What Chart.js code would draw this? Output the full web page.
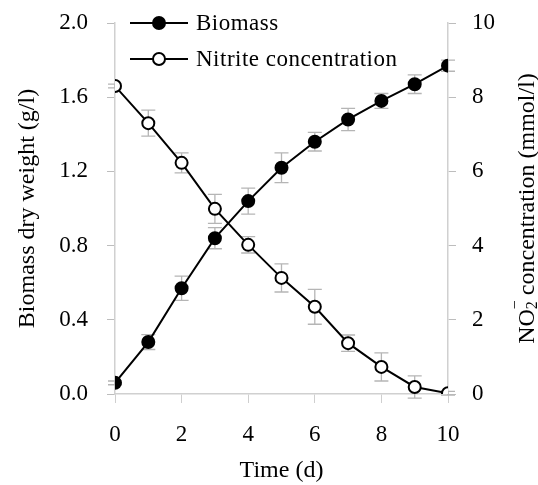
<!DOCTYPE html>
<html lang="en">
<head>
  <meta charset="UTF-8" />
  <title>Biomass and nitrite</title>
  <script src="https://cdn.jsdelivr.net/npm/chart.js"></script>
  <style>
    * { margin: 0; padding: 0; box-sizing: border-box; }
    body { background: #fff; width: 538px; height: 485px; overflow: hidden; }
    #wrap { width: 538px; height: 485px; }
  </style>
</head>
<body>
  <div id="wrap"><canvas id="chart" width="538" height="485"></canvas></div>

  <script>
    const days = [0, 1, 2, 3, 4, 5, 6, 7, 8, 9, 10];
    const biomass = [0.06, 0.28, 0.57, 0.84, 1.04, 1.22, 1.36, 1.48, 1.58, 1.67, 1.77];
    const biomassErr = [0.01, 0.04, 0.065, 0.057, 0.07, 0.08, 0.05, 0.06, 0.04, 0.05, 0.03];
    const nitrite = [8.30, 7.30, 6.23, 4.99, 4.02, 3.13, 2.35, 1.37, 0.73, 0.19, 0.02];
    const nitriteErr = [0.05, 0.35, 0.27, 0.39, 0.22, 0.38, 0.47, 0.22, 0.38, 0.30, 0.05];
    const xTicks = [0, 2, 4, 6, 8, 10];
    const leftTicks = [0, 0.4, 0.8, 1.2, 1.6, 2.0];
    const rightTicks = [0, 2, 4, 6, 8, 10];

    const serif = '"Liberation Serif", "Times New Roman", "DejaVu Serif", serif';

    // gray error bars drawn under the lines
    const errorBars = {
      id: 'errorBars',
      beforeDatasetsDraw(chart) {
        const ctx = chart.ctx;
        const xs = chart.scales.x;
        ctx.save();
        ctx.strokeStyle = '#b5b5b5';
        ctx.lineWidth = 1.3;
        chart.data.datasets.forEach(ds => {
          const ys = chart.scales[ds.yAxisID];
          ds.data.forEach((p, i) => {
            const e = ds.errors[i];
            const x = xs.getPixelForValue(p.x);
            const top = ys.getPixelForValue(p.y + e);
            const bot = ys.getPixelForValue(p.y - e);
            ctx.beginPath();
            ctx.moveTo(x, top); ctx.lineTo(x, bot);
            ctx.moveTo(x - 7, top); ctx.lineTo(x + 7, top);
            ctx.moveTo(x - 7, bot); ctx.lineTo(x + 7, bot);
            ctx.stroke();
          });
        });
        ctx.restore();
      }
    };

    // legend with line + marker inside the plot, and the right axis title (reads upward)
    const extras = {
      id: 'extras',
      afterDraw(chart) {
        const ctx = chart.ctx;
        const area = chart.chartArea;
        const x0 = area.left + 15;
        let y = area.top;
        ctx.save();
        chart.data.datasets.forEach(ds => {
          ctx.strokeStyle = '#000';
          ctx.lineWidth = 2;
          ctx.beginPath();
          ctx.moveTo(x0, y); ctx.lineTo(x0 + 58, y);
          ctx.stroke();
          ctx.beginPath();
          ctx.arc(x0 + 29, y, 6, 0, Math.PI * 2);
          ctx.fillStyle = ds.pointBackgroundColor;
          ctx.fill();
          ctx.stroke();
          ctx.fillStyle = '#000';
          ctx.font = '23px ' + serif;
          ctx.letterSpacing = '0.5px';
          ctx.textBaseline = 'middle';
          ctx.textAlign = 'left';
          ctx.fillText(ds.label, x0 + 66, y + 1);
          ctx.letterSpacing = '0px';
          y += 36;
        });

        // right title: NO2- concentration (mmol/l)
        const big = '24px ' + serif, small = '16px ' + serif;
        const parts = [
          { t: 'NO', f: big, dy: 0 },
          { t: '2', f: small, dy: 5 },
          { t: ' concentration (mmol/l)', f: big, dy: 0 }
        ];
        let total = 0;
        parts.forEach(p => { ctx.font = p.f; p.w = ctx.measureText(p.t).width; total += p.w; });
        const cx = area.right + 80;
        const cy = (area.top + area.bottom) / 2;
        ctx.translate(cx, cy);
        ctx.rotate(-Math.PI / 2);
        ctx.textBaseline = 'middle';
        ctx.textAlign = 'left';
        let tx = -total / 2;
        parts.forEach((p, i) => {
          ctx.font = p.f;
          ctx.fillText(p.t, tx, p.dy);
          if (i === 1) {
            ctx.fillText('\u2212', tx, -12);
          }
          tx += p.w;
        });
        ctx.restore();
      }
    };

    const toPts = (vals) => vals.map((v, i) => ({ x: days[i], y: v }));

    // fixed box sizes, no extra room for label overflow
    const fixBox = (w, h) => s => {
      if (w) s.width = w;
      if (h) s.height = h;
      s.paddingTop = 0; s.paddingBottom = 0;
      s.paddingLeft = 0; s.paddingRight = 0;
    };

    new Chart(document.getElementById('chart'), {
      type: 'line',
      data: {
        datasets: [{
          label: 'Biomass',
          data: toPts(biomass),
          errors: biomassErr,
          yAxisID: 'y',
          borderColor: '#000',
          borderWidth: 2,
          pointRadius: 6,
          pointBorderWidth: 2,
          pointBackgroundColor: '#000',
          pointBorderColor: '#000',
          tension: 0
        }, {
          label: 'Nitrite concentration',
          data: toPts(nitrite),
          errors: nitriteErr,
          yAxisID: 'y2',
          borderColor: '#000',
          borderWidth: 2,
          pointRadius: 6,
          pointBorderWidth: 2,
          pointBackgroundColor: '#fff',
          pointBorderColor: '#000',
          tension: 0
        }]
      },
      options: {
        responsive: false,
        animation: false,
        devicePixelRatio: 1,
        layout: { padding: { top: 23, left: 0, right: 0, bottom: 0 } },
        plugins: { legend: { display: false }, tooltip: { enabled: false } },
        scales: {
          x: {
            type: 'linear',
            min: 0, max: 10,
            afterBuildTicks: s => { s.ticks = xTicks.map(v => ({ value: v })); },
            afterFit: fixBox(0, 91),
            grid: { drawOnChartArea: false, color: '#cfcfcf', tickLength: 9 },
            border: { color: '#d0d0d0', width: 1.5 },
            ticks: { color: '#000', font: { family: serif, size: 23 }, padding: 18 },
            title: { display: true, text: 'Time (d)', color: '#000', font: { family: serif, size: 24 }, padding: { top: 0, bottom: 0 } }
          },
          y: {
            position: 'left',
            min: 0, max: 2,
            afterBuildTicks: s => { s.ticks = leftTicks.map(v => ({ value: v })); },
            afterFit: fixBox(115, 0),
            grid: { drawOnChartArea: false, color: '#bdbdbd', tickLength: 8 },
            border: { color: '#d0d0d0', width: 1.5 },
            ticks: { color: '#000', font: { family: serif, size: 23 }, padding: 19, callback: v => v.toFixed(1) },
            title: { display: true, text: 'Biomass dry weight (g/l)', color: '#000', font: { family: serif, size: 24 }, padding: { top: 13 } }
          },
          y2: {
            position: 'right',
            min: 0, max: 10,
            afterBuildTicks: s => { s.ticks = rightTicks.map(v => ({ value: v })); },
            afterFit: fixBox(90, 0),
            grid: { drawOnChartArea: false, color: '#bdbdbd', tickLength: 8 },
            border: { color: '#d0d0d0', width: 1.5 },
            ticks: { color: '#000', font: { family: serif, size: 23 }, padding: 16 }
          }
        }
      },
      plugins: [errorBars, extras]
    });
  </script>
</body>
</html>
